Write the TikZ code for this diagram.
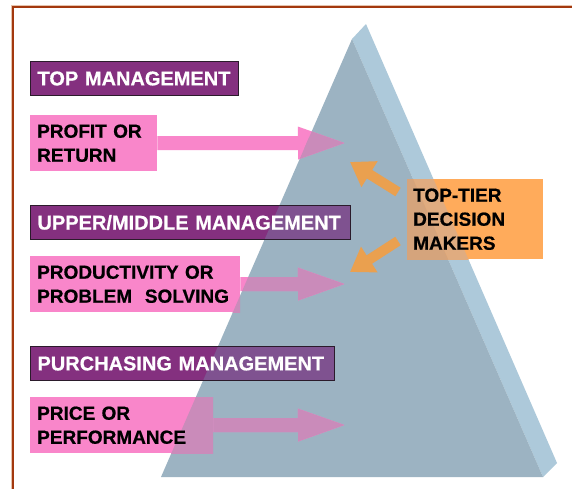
\documentclass[tikz,border=0pt]{standalone}
\usepackage{fontspec}
\setmainfont{Liberation Sans}[BoldFeatures={FakeBold=0.6}]
\usetikzlibrary{arrows.meta}

\definecolor{pyrfront}{HTML}{9CB3C2}
\definecolor{pyrside}{HTML}{ADC9DA}
\definecolor{pinkfill}{HTML}{F986CA}
\definecolor{pinkover}{HTML}{CA8BBA}
\definecolor{purplefill}{HTML}{84307F}
\definecolor{purpleover}{HTML}{7F5290}
\definecolor{purpleline}{HTML}{2B1B2B}
\definecolor{orangefill}{HTML}{FFAB5B}
\definecolor{orangefront}{HTML}{D5A47C}
\definecolor{orangeside}{HTML}{E0AC80}
\definecolor{orangearrow}{HTML}{EAA04F}
\definecolor{framedark}{HTML}{A3380E}
\definecolor{framelight}{HTML}{E6C3AC}

\tikzset{
  frontface/.style={insert path={(baseL) -- (apex) -- (baseR) -- cycle}},
  sideface/.style={insert path={(apex) -- (apexback) -- (baseback) -- (baseR) -- cycle}},
  levelbox/.style={draw=purpleline, line width=1pt, fill=purplefill, text=white,
    font=\fontsize{20}{24}\selectfont\bfseries, anchor=north west,
    inner xsep=7pt, inner ysep=0pt, align=left, minimum height=34pt,
    path picture={\fill[purpleover, frontface];}},
  criterion/.style={fill=pinkfill, text=black,
    font=\fontsize{19}{24}\selectfont\bfseries, anchor=north west,
    inner xsep=7pt, inner ysep=0pt, align=left, minimum height=56pt,
    path picture={\fill[pinkover, frontface];}},
  makers/.style={fill=orangefill, text=black,
    font=\fontsize{19}{24}\selectfont\bfseries, anchor=north west,
    inner xsep=6pt, inner ysep=0pt, align=left, minimum height=80pt,
    path picture={\fill[orangeside, sideface]; \fill[orangefront, frontface];}},
  pinkarrow/.style={line width=14pt, -{Triangle[length=52pt,width=28pt]}},
  orangearr/.style={draw=orangearrow, line width=10pt, -{Triangle[length=23pt,width=29pt]}},
}

\begin{document}
\begin{tikzpicture}[x=1pt,y=-1pt]
  \path[use as bounding box] (0,0) rectangle (572,488);
  \clip (0,0) rectangle (572,488);
  \fill[white] (0,0) rectangle (572,488);

  % pyramid corners
  \coordinate (apex) at (352,39);
  \coordinate (apexback) at (366,24);
  \coordinate (baseL) at (161,477);
  \coordinate (baseR) at (543,477);
  \coordinate (baseback) at (557,463);

  % pyramid faces
  \fill[pyrside, sideface];
  \fill[pyrfront, frontface];

  % page frame
  \draw[framelight, line width=1.2pt] (11.6,500) -- (11.6,5.2) -- (600,5.2);
  \draw[framedark, line width=2pt] (13,500) -- (13,6.5) -- (600,6.5);

  % management levels
  \node[levelbox, text width=194pt] (top) at (30,61) {TOP MANAGEMENT};
  \node[levelbox, text width=306pt] (upper) at (30,205) {UPPER/MIDDLE MANAGEMENT};
  \node[levelbox, text width=290pt] (purch) at (30,346) {PURCHASING MANAGEMENT};

  % criteria boxes
  \node[criterion, text width=113pt] (profit) at (30,115) {PROFIT OR\\RETURN};
  \node[criterion, text width=196pt] (prod) at (30,256) {PRODUCTIVITY OR\\PROBLEM\ \ SOLVING};
  \node[criterion, text width=169pt] (price) at (30,397) {PRICE OR\\PERFORMANCE};

  % arrow targets inside the pyramid
  \coordinate (profittip) at (350,143);
  \coordinate (prodtip) at (350,284);
  \coordinate (pricetip) at (350,425);

  % criterion arrows, toned where they cross the pyramid
  \draw[pinkarrow, pinkfill] (profit.east) -- (profittip);
  \draw[pinkarrow, pinkfill] (prod.east) -- (prodtip);
  \draw[pinkarrow, pinkfill] (price.east) -- (pricetip);
  \begin{scope}
    \clip[frontface];
    \draw[pinkarrow, pinkover] (profit.east) -- (profittip);
    \draw[pinkarrow, pinkover] (prod.east) -- (prodtip);
    \draw[pinkarrow, pinkover] (price.east) -- (pricetip);
  \end{scope}

  % decision makers
  \node[makers, text width=124pt] (ttd) at (407,179) {TOP-TIER\\DECISION\\MAKERS};

  \coordinate (uptail) at (398,192);
  \coordinate (uptip) at (350,162);
  \coordinate (downtail) at (398,241);
  \coordinate (downtip) at (350,272);
  \draw[orangearr] (uptail) -- (uptip);
  \draw[orangearr] (downtail) -- (downtip);
\end{tikzpicture}
\end{document}
